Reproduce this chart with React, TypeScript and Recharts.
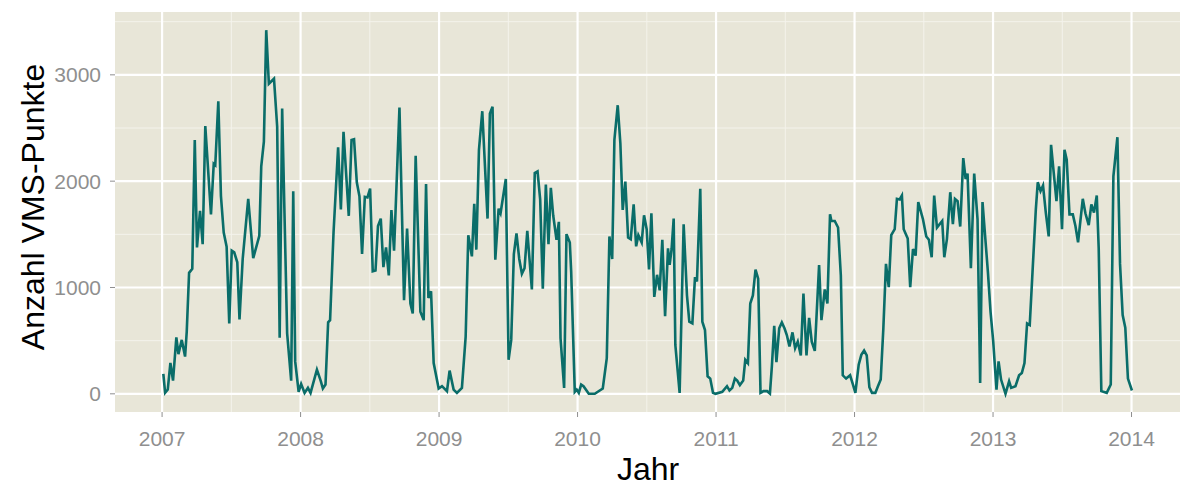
import React from "react";
import {
  CartesianGrid,
  Line,
  LineChart,
  XAxis,
  YAxis,
} from "recharts";

// Zeitpunkte (Dezimaljahre) und Anzahl VMS-Punkte
const zeit = [
  2007.009, 2007.022, 2007.041, 2007.06, 2007.079, 2007.103, 2007.118, 2007.142, 2007.166, 2007.178,
  2007.195, 2007.218, 2007.236, 2007.252, 2007.274, 2007.293, 2007.312, 2007.353, 2007.373, 2007.384,
  2007.406, 2007.425, 2007.445, 2007.466, 2007.485, 2007.503, 2007.521, 2007.543, 2007.559, 2007.582,
  2007.622, 2007.658, 2007.702, 2007.716, 2007.735, 2007.752, 2007.771, 2007.808, 2007.831, 2007.849,
  2007.867, 2007.903, 2007.932, 2007.947, 2007.961, 2007.986, 2008.004, 2008.029, 2008.053, 2008.072,
  2008.118, 2008.146, 2008.161, 2008.18, 2008.199, 2008.213, 2008.238, 2008.271, 2008.291, 2008.31,
  2008.348, 2008.368, 2008.386, 2008.406, 2008.425, 2008.444, 2008.464, 2008.483, 2008.502, 2008.521,
  2008.541, 2008.559, 2008.579, 2008.598, 2008.617, 2008.637, 2008.656, 2008.675, 2008.714, 2008.747,
  2008.769, 2008.793, 2008.81, 2008.831, 2008.865, 2008.889, 2008.906, 2008.923, 2008.942, 2008.961,
  2008.997, 2009.021, 2009.057, 2009.076, 2009.105, 2009.129, 2009.165, 2009.192, 2009.211, 2009.237,
  2009.254, 2009.269, 2009.288, 2009.312, 2009.35, 2009.367, 2009.386, 2009.406, 2009.43, 2009.444,
  2009.482, 2009.502, 2009.521, 2009.54, 2009.559, 2009.579, 2009.598, 2009.617, 2009.637, 2009.67,
  2009.691, 2009.711, 2009.73, 2009.749, 2009.771, 2009.79, 2009.807, 2009.824, 2009.848, 2009.865,
  2009.877, 2009.903, 2009.92, 2009.944, 2009.954, 2009.98, 2009.994, 2010.009, 2010.026, 2010.043,
  2010.081, 2010.124, 2010.182, 2010.211, 2010.23, 2010.25, 2010.266, 2010.29, 2010.309, 2010.326,
  2010.345, 2010.365, 2010.384, 2010.405, 2010.423, 2010.439, 2010.463, 2010.48, 2010.499, 2010.516,
  2010.533, 2010.554, 2010.574, 2010.593, 2010.612, 2010.632, 2010.653, 2010.665, 2010.679, 2010.694,
  2010.706, 2010.737, 2010.766, 2010.79, 2010.807, 2010.829, 2010.848, 2010.862, 2010.886, 2010.901,
  2010.92, 2010.939, 2010.958, 2010.978, 2010.996, 2011.045, 2011.079, 2011.097, 2011.117, 2011.136,
  2011.153, 2011.172, 2011.196, 2011.211, 2011.23, 2011.247, 2011.266, 2011.285, 2011.304, 2011.321,
  2011.343, 2011.369, 2011.389, 2011.403, 2011.42, 2011.436, 2011.456, 2011.475, 2011.494, 2011.511,
  2011.53, 2011.552, 2011.571, 2011.59, 2011.612, 2011.631, 2011.653, 2011.672, 2011.691, 2011.713,
  2011.744, 2011.761, 2011.785, 2011.804, 2011.823, 2011.833, 2011.857, 2011.881, 2011.901, 2011.915,
  2011.939, 2011.968, 2011.987, 2012.006, 2012.03, 2012.049, 2012.069, 2012.088, 2012.107, 2012.126,
  2012.15, 2012.169, 2012.189, 2012.208, 2012.227, 2012.247, 2012.265, 2012.29, 2012.306, 2012.326,
  2012.342, 2012.355, 2012.384, 2012.402, 2012.422, 2012.441, 2012.46, 2012.494, 2012.518, 2012.537,
  2012.557, 2012.575, 2012.595, 2012.633, 2012.648, 2012.667, 2012.691, 2012.71, 2012.725, 2012.744,
  2012.763, 2012.785, 2012.802, 2012.816, 2012.84, 2012.864, 2012.888, 2012.907, 2012.924, 2012.963,
  2012.982, 2013.001, 2013.025, 2013.04, 2013.058, 2013.09, 2013.116, 2013.131, 2013.162, 2013.188,
  2013.208, 2013.227, 2013.246, 2013.265, 2013.285, 2013.309, 2013.323, 2013.343, 2013.361, 2013.381,
  2013.402, 2013.419, 2013.438, 2013.458, 2013.477, 2013.498, 2013.516, 2013.532, 2013.552, 2013.576,
  2013.595, 2013.614, 2013.648, 2013.667, 2013.691, 2013.71, 2013.729, 2013.749, 2013.763, 2013.782,
  2013.821, 2013.85, 2013.869, 2013.898, 2013.917, 2013.936, 2013.955, 2013.974, 2014.003,
];

const anzahl = [
  187, 10, 40, 290, 125, 530, 373, 507, 350, 585,
  1138, 1175, 2388, 1377, 1720, 1408, 2518, 1688, 2164, 2151,
  2751, 1859, 1517, 1383, 662, 1346, 1330, 1237, 700, 1268,
  1834, 1275, 1486, 2139, 2372, 3420, 2916, 2963, 2512, 528,
  2683, 569, 124, 1906, 305, 19, 93, 9, 56, 9,
  227, 120, 50, 87, 672, 693, 1517, 2319, 1735, 2465,
  1673, 2388, 2394, 1990, 1859, 1315, 1853, 1847, 1931, 1153,
  1160, 1579, 1648, 1191, 1377, 1113, 1729, 1346, 2692, 880,
  1555, 849, 755, 2238, 771, 693, 1974, 902, 964, 289,
  50, 72, 25, 218, 40, 9, 56, 538, 1492, 1293,
  1788, 1356, 2294, 2658, 1648, 2636, 2699, 1262, 1741, 1698,
  2021, 320, 507, 1315, 1508, 1268, 1129, 1181, 1533, 982,
  2077, 2092, 1828, 989, 1968, 1408, 1937, 1679, 1449, 1617,
  522, 56, 1502, 1424, 1144, 19, 40, 9, 87, 72,
  0, 0, 50, 336, 1480, 1268, 2388, 2714, 2357, 1729,
  1996, 1471, 1455, 1781, 1387, 1492, 1424, 1679, 1548, 1169,
  1698, 911, 1119, 973, 1449, 731, 1368, 1212, 1362, 1648,
  460, 9, 1595, 926, 678, 662, 1097, 1057, 1928, 678,
  600, 165, 143, 9, 0, 19, 72, 31, 56, 143,
  124, 81, 124, 320, 289, 849, 926, 1169, 1082, 9,
  25, 25, 3, 258, 640, 298, 616, 672, 616, 553,
  445, 578, 429, 491, 361, 942, 361, 715, 491, 404,
  1210, 693, 982, 849, 1688, 1626, 1626, 1564, 1113, 174,
  143, 174, 93, 9, 274, 367, 407, 361, 62, 9,
  9, 72, 134, 616, 1222, 1004, 1492, 1548, 1834, 1828,
  1865, 1548, 1461, 1004, 1362, 1300, 1803, 1642, 1480, 1449,
  1284, 1865, 1564, 1626, 1284, 1455, 1896, 1595, 1834, 1813,
  1573, 2217, 2021, 2071, 1181, 2071, 1642, 103, 1803, 1144,
  771, 497, 40, 305, 134, 0, 118, 56, 72, 174,
  196, 289, 662, 647, 1144, 1735, 1990, 1906, 1959, 1704,
  1480, 2341, 2083, 1813, 2139, 1548, 2294, 2201, 1688, 1688,
  1579, 1424, 1834, 1698, 1586, 1782, 1704, 1865, 1368, 25,
  9, 87, 2046, 2413, 1222, 740, 622, 143, 31,
];

const jahre = [2007, 2008, 2009, 2010, 2011, 2012, 2013, 2014];
const jahreMinor = [2007.5, 2008.5, 2009.5, 2010.5, 2011.5, 2012.5, 2013.5];
const yTicks = [0, 1000, 2000, 3000];
const yMinor = [500, 1500, 2500, 3500];

const data = zeit.map((t, i) => ({ t, v: anzahl[i] }));

const tickStyle = { fill: "#8f8f8f", fontSize: 21, fontFamily: "Liberation Sans, Arial, sans-serif" };
const titleFont = "Liberation Sans, Arial, sans-serif";

const App = () => {
  return (
    <div style={{ position: "absolute", left: 0, top: 0 }}>
      <LineChart
        width={1180}
        height={486}
        data={data}
        margin={{ top: 12, right: 0, left: 0, bottom: 0 }}
      >
        <CartesianGrid
          fill="#E8E6D8"
          stroke="#F4F3EC"
          strokeWidth={1}
          horizontalValues={yMinor}
          verticalValues={jahreMinor}
        />
        <CartesianGrid
          stroke="#FFFFFF"
          strokeWidth={2.2}
          horizontalValues={yTicks}
          verticalValues={jahre}
        />
        <XAxis
          dataKey="t"
          type="number"
          domain={[2006.66, 2014.35]}
          allowDataOverflow
          ticks={jahre}
          tickFormatter={(v) => String(v)}
          axisLine={false}
          tickLine={{ stroke: "#8f8f8f" }}
          tickSize={5}
          tickMargin={14}
          tick={tickStyle}
          height={74}
          label={{
            content: () => (
              <text
                x={648}
                y={480}
                textAnchor="middle"
                fontSize={32}
                fontFamily={titleFont}
                fill="#000"
              >
                Jahr
              </text>
            ),
          }}
        />
        <YAxis
          type="number"
          domain={[-171, 3591]}
          allowDataOverflow
          ticks={yTicks}
          axisLine={false}
          tickLine={{ stroke: "#8f8f8f" }}
          tickSize={5}
          tickMargin={9}
          tick={tickStyle}
          width={115}
          label={{
            content: () => (
              <text
                x={44}
                y={207}
                transform="rotate(-90 44 207)"
                textAnchor="middle"
                fontSize={32}
                fontFamily={titleFont}
                fill="#000"
              >
                Anzahl VMS-Punkte
              </text>
            ),
          }}
        />
        <Line
          type="linear"
          dataKey="v"
          stroke="#0A6D69"
          strokeWidth={2.6}
          dot={false}
          isAnimationActive={false}
        />
      </LineChart>
    </div>
  );
};

export default App;
